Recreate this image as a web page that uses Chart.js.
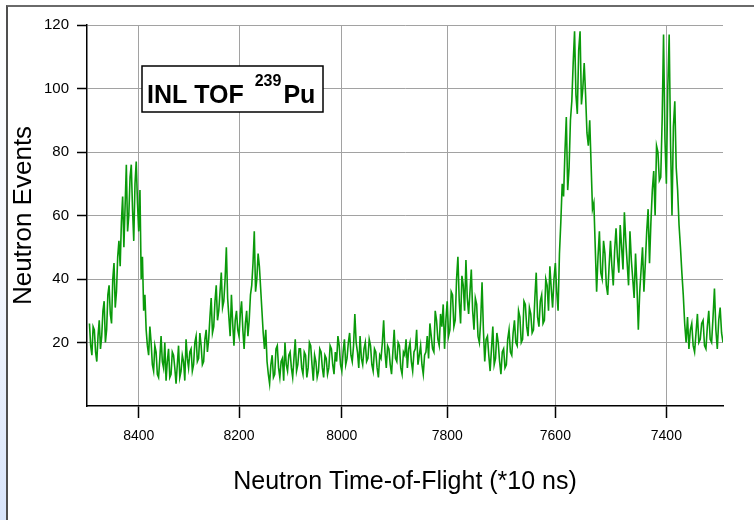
<!DOCTYPE html>
<html>
<head>
<meta charset="utf-8">
<title>INL TOF 239Pu</title>
<script src="https://cdn.jsdelivr.net/npm/chart.js@4.4.1/dist/chart.umd.min.js"></script>
<style>
  html, body { margin: 0; padding: 0; }
  body {
    width: 754px; height: 520px; position: relative; overflow: hidden;
    background: linear-gradient(to bottom, #ffffff 0%, #f3f6fd 55%, #d8e4fa 100%);
  }
  #panel {
    position: absolute; left: 6px; top: 5px; right: 0; bottom: 0;
    background: #fff;
    border-top: 2px solid #6a6a6a;
    border-left: 2px solid #4f4f4f;
  }
  #chart { position: absolute; left: 0; top: 0; }
</style>
</head>
<body>
<div id="panel"></div>
<canvas id="chart" width="754" height="520"></canvas>
<script>
// time-of-flight channel (*10 ns) of the first value, and channels between values
const tofStart = 8500;
const tofStep = 2.5;

// neutron events, 20 values per row (50 channels)
const neutronEvents = [
  26, 19, 16, 25, 24, 17, 14, 22, 27, 18, 22, 30, 33, 20, 24, 35, 38, 29, 26, 40,          // 8500
  45, 31, 36, 47, 52, 44, 58, 66, 50, 63, 76, 55, 60, 72, 76, 62, 52, 70, 77, 64,          // 8450
  55, 68, 40, 47, 30, 35, 24, 19, 16, 25, 20, 13, 11, 19, 17, 10, 9, 15, 22, 14,           // 8400
  12, 20, 8, 14, 18, 9, 10, 17, 16, 12, 7, 13, 19, 9, 11, 16, 14, 8, 21, 15,               // 8350
  12, 17, 18, 11, 13, 20, 22, 14, 15, 23, 19, 13, 14, 21, 24, 17, 21, 28, 34, 23,          // 8300
  25, 33, 38, 27, 30, 36, 42, 31, 33, 40, 50, 34, 28, 22, 35, 26, 19, 27, 30, 24,          // 8250
  22, 29, 33, 24, 18, 26, 30, 22, 27, 35, 38, 45, 55, 36, 40, 48, 44, 37, 30, 23,          // 8200
  18, 24, 14, 10, 7, 13, 16, 9, 10, 18, 19, 12, 9, 14, 15, 8, 20, 13, 11, 16,              // 8150
  17, 12, 9, 15, 21, 11, 13, 18, 18, 12, 10, 17, 16, 9, 12, 20, 19, 13, 8, 16,             // 8100
  14, 9, 11, 18, 17, 12, 9, 16, 15, 10, 12, 19, 18, 13, 10, 17, 14, 22, 19, 13,            // 8050
  11, 17, 21, 13, 15, 20, 23, 16, 14, 19, 29, 20, 17, 12, 22, 15, 13, 18, 20, 14,          // 8000
  15, 21, 19, 13, 11, 18, 17, 12, 9, 16, 15, 20, 27, 17, 12, 19, 18, 13, 10, 17,           // 7950
  24, 15, 14, 20, 19, 12, 10, 17, 16, 21, 12, 18, 20, 14, 11, 17, 18, 24, 13, 16,          // 7900
  19, 13, 10, 16, 17, 22, 15, 26, 22, 18, 17, 30, 27, 21, 19, 29, 25, 32, 18, 27,          // 7850
  33, 22, 24, 36, 35, 25, 27, 40, 47, 33, 26, 41, 38, 30, 46, 34, 29, 36, 43, 30,          // 7800
  24, 34, 32, 22, 20, 27, 39, 24, 14, 21, 22, 16, 11, 18, 25, 13, 15, 23, 20, 14,          // 7750
  10, 17, 18, 12, 13, 21, 24, 17, 16, 23, 27, 20, 19, 30, 28, 20, 21, 33, 32, 25,          // 7700
  22, 31, 29, 23, 24, 34, 42, 28, 25, 33, 35, 26, 27, 40, 38, 30, 44, 37, 31, 40,          // 7650
  45, 36, 30, 48, 58, 70, 66, 80, 91, 68, 75, 90, 96, 108, 118, 98, 92, 112, 118, 95,      // 7600
  100, 108, 98, 86, 82, 90, 76, 62, 64, 50, 36, 47, 55, 42, 40, 52, 48, 38, 35, 44,        // 7550
  52, 44, 38, 49, 56, 47, 42, 57, 50, 43, 61, 52, 45, 38, 55, 46, 40, 34, 48, 38,          // 7500
  24, 36, 43, 50, 36, 45, 55, 62, 45, 58, 68, 74, 60, 82, 80, 71, 72, 90, 117, 84,         // 7450
  70, 100, 117, 82, 60, 88, 96, 75, 68, 57, 50, 42, 35, 26, 20, 28, 18, 24, 26, 19,        // 7400
  17, 23, 29, 20, 21, 26, 27, 19, 18, 25, 30, 21, 20, 28, 37, 24, 18, 27, 31, 23,          // 7350
  20                                                                                       // 7300
];

const xTicks = [8400, 8200, 8000, 7800, 7600, 7400];
const yTicks = [20, 40, 60, 80, 100, 120];

const labelMain = "INL TOF";
const labelMass = "239";
const labelElement = "Pu";

const FONT = "'Liberation Sans', Arial, Helvetica, sans-serif";

// points for the line (x = channel, y = counts)
const points = neutronEvents.map(function (v, i) {
  return { x: tofStart - i * tofStep, y: v };
});

// boxed label in the upper left of the plot
const labelBox = {
  id: "labelBox",
  afterDatasetsDraw(chart) {
    const ctx = chart.ctx;
    const area = chart.chartArea;
    const bx = area.left + 55;
    const by = area.top + 41;
    const bw = 181;
    const bh = 46;
    ctx.save();
    ctx.fillStyle = "#fff";
    ctx.fillRect(bx, by, bw, bh);
    ctx.strokeStyle = "#000";
    ctx.lineWidth = 1.5;
    ctx.strokeRect(bx, by, bw, bh);

    ctx.fillStyle = "#000";
    ctx.textBaseline = "alphabetic";
    const base = by + 37;
    let cx = bx + 5;
    ctx.font = "bold 25px " + FONT;
    ctx.fillText(labelMain, cx, base);
    cx += ctx.measureText(labelMain + " ").width + 4;
    ctx.font = "bold 16px " + FONT;
    ctx.fillText(labelMass, cx, base - 17);
    cx += ctx.measureText(labelMass).width + 2;
    ctx.font = "bold 25px " + FONT;
    ctx.fillText(labelElement, cx, base);
    ctx.restore();
  }
};

const ctx = document.getElementById("chart");
new Chart(ctx, {
  type: "line",
  data: {
    datasets: [
      {
        label: "Neutron Events",
        data: points,
        borderColor: "#0a9a0a",
        borderWidth: 1.6,
        pointRadius: 0,
        tension: 0,
        fill: false,
      },
    ],
  },
  options: {
    responsive: false,
    animation: false,
    devicePixelRatio: 1,
    layout: {
      autoPadding: false,
      padding: { top: 25, right: 31, bottom: 0, left: 0 },
    },
    plugins: {
      legend: { display: false },
      tooltip: { enabled: false },
    },
    scales: {
      x: {
        type: "logarithmic",
        reverse: true,
        min: 7300,
        max: 8505,
        afterBuildTicks(scale) {
          scale.ticks = xTicks.map(function (v) { return { value: v }; });
        },
        afterFit(scale) {
          scale.height = 114;
        },
        grid: {
          color: "#a2a2a2",
          lineWidth: 1,
          tickColor: "#000",
          tickLength: 12,
          tickWidth: 1.5,
        },
        border: { color: "#000", width: 1.5 },
        ticks: {
          color: "#000",
          font: { family: FONT, size: 14 },
          padding: 10,
          maxRotation: 0,
          autoSkip: false,
          callback: function (v) { return String(v); },
        },
        title: {
          display: true,
          text: "Neutron Time-of-Flight (*10 ns)",
          color: "#000",
          font: { family: FONT, size: 25 },
          padding: { top: 0, bottom: 23 },
        },
      },
      y: {
        min: 0,
        max: 120,
        afterBuildTicks(scale) {
          scale.ticks = yTicks.map(function (v) { return { value: v }; });
        },
        afterFit(scale) {
          scale.width = 87;
        },
        grid: {
          color: "#a2a2a2",
          lineWidth: 1,
          tickColor: "#000",
          tickLength: 10,
          tickWidth: 1.5,
        },
        border: { color: "#000", width: 1.5 },
        ticks: {
          color: "#000",
          font: { family: FONT, size: 15 },
          padding: 8,
        },
        title: {
          display: true,
          text: "Neutron Events",
          color: "#000",
          font: { family: FONT, size: 26 },
          padding: { top: 8, bottom: 0 },
        },
      },
    },
  },
  plugins: [labelBox],
});
</script>
</body>
</html>
